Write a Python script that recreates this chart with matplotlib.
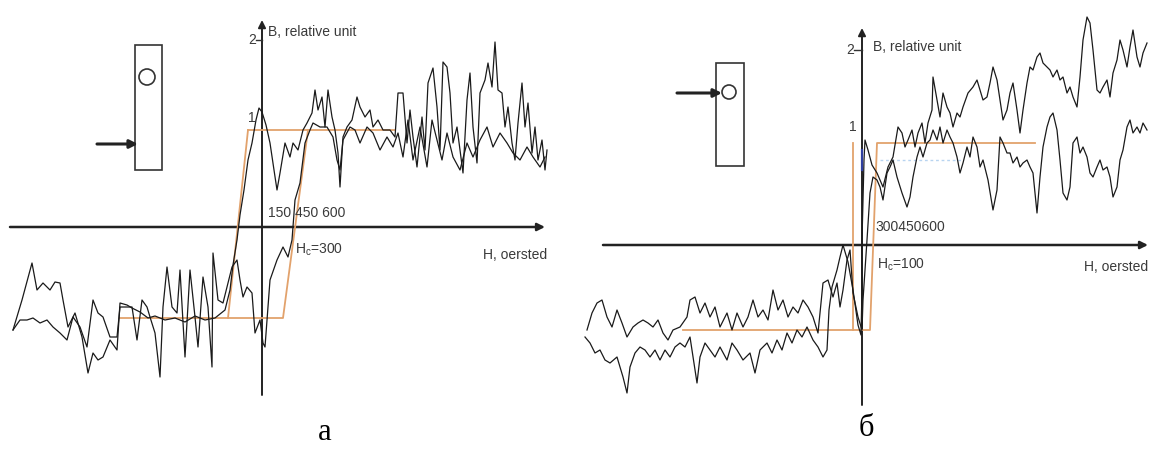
import matplotlib
matplotlib.use("Agg")
import matplotlib.pyplot as plt
from matplotlib.patches import Rectangle, Ellipse

plt.rcParams["font.family"] = ["Liberation Sans", "DejaVu Sans"]
plt.rcParams["mathtext.default"] = "regular"

# ---------------- panel "а" : H (Oe) / B (relative unit) ----------------
a1_H = [-2490, -2400, -2300, -2250, -2190, -2120, -2070, -2020, -1990, -1940, -1870, -1800,
        -1740, -1690, -1640, -1590, -1520, -1450, -1420, -1350, -1300, -1220, -1140, -1070,
        -970, -870, -770, -670, -570, -470, -370, -320, -290, -250, -220, -180, -140, -100,
        -60, -30, 0, 40, 80, 120, 150, 180, 230, 280, 310, 360, 410, 450, 500, 530, 560, 600,
        630, 660, 700, 730, 760, 780, 810, 850, 900, 950, 980, 1030, 1080, 1110, 1160, 1210,
        1280, 1330, 1360, 1410, 1450, 1480, 1510, 1550, 1600, 1630, 1660, 1710, 1750, 1780,
        1810, 1850, 1880, 1910, 1950, 1980, 2010, 2050, 2080, 2110, 2150, 2180, 2230, 2260,
        2300, 2330, 2360, 2400, 2430, 2460, 2500, 2530, 2560, 2600, 2630, 2660, 2700, 2730,
        2760, 2800, 2830, 2850]
a1_B = [-1.03, -0.73, -0.36, -0.63, -0.56, -0.63, -0.55, -0.56, -0.73, -1.00, -0.86, -1.10,
        -1.46, -1.26, -1.33, -1.30, -1.13, -1.23, -0.76, -0.78, -0.81, -0.85, -0.91, -0.89,
        -0.93, -0.91, -0.95, -0.89, -0.93, -0.91, -0.83, -0.63, -0.38, -0.13, 0.12, 0.37,
        0.67, 0.84, 1.07, 1.19, 1.15, 1.02, 0.84, 0.57, 0.37, 0.54, 0.84, 0.70, 0.84, 0.77,
        0.97, 1.04, 1.14, 1.37, 1.17, 1.30, 1.00, 1.37, 1.10, 0.97, 0.74, 0.40, 0.90, 1.00,
        1.07, 1.30, 1.20, 1.10, 1.17, 1.00, 1.07, 0.97, 0.97, 0.90, 1.34, 1.34, 0.84, 1.17,
        0.90, 0.60, 1.10, 0.77, 1.44, 1.59, 1.20, 0.77, 1.65, 1.60, 1.34, 0.84, 1.00, 0.77,
        0.54, 1.27, 1.54, 1.00, 0.64, 1.34, 1.47, 1.64, 1.40, 1.85, 1.37, 1.34, 1.00, 1.20,
        0.84, 0.67, 1.04, 1.44, 1.00, 1.24, 0.74, 1.00, 0.67, 0.87, 0.57, 0.77]

a2_H = [-2490, -2420, -2350, -2290, -2220, -2150, -2090, -2020, -1950, -1890, -1820, -1750,
        -1690, -1640, -1590, -1520, -1450, -1420, -1350, -1300, -1250, -1200, -1150, -1120,
        -1070, -1020, -990, -950, -900, -850, -820, -770, -720, -670, -640, -590, -540, -500,
        -490, -440, -390, -340, -300, -250, -220, -190, -150, -100, -70, -20, 10, 30, 80,
        150, 210, 260, 300, 330, 380, 430, 480, 510, 580, 650, 710, 750, 780, 810, 880, 930,
        980, 1050, 1110, 1180, 1250, 1310, 1360, 1410, 1460, 1510, 1580, 1650, 1700, 1750,
        1800, 1850, 1910, 1980, 2050, 2110, 2180, 2250, 2310, 2380, 2450, 2510, 2580, 2650,
        2710, 2780, 2830]
a2_B = [-1.03, -0.93, -0.93, -0.91, -0.96, -0.93, -1.00, -1.06, -1.13, -0.90, -1.00, -1.20,
        -0.73, -0.86, -0.90, -1.10, -1.10, -0.80, -0.80, -0.80, -1.13, -0.73, -0.80, -0.90,
        -1.06, -1.50, -0.80, -0.40, -0.80, -0.86, -0.43, -1.30, -0.43, -0.90, -1.20, -0.50,
        -0.80, -1.40, -0.26, -0.73, -0.76, -0.56, -0.40, -0.33, -0.53, -0.70, -0.60, -0.66,
        -1.06, -0.93, -1.16, -1.20, -0.53, -0.33, -0.20, -0.30, -0.13, 0.27, 0.44, 0.84,
        0.97, 1.04, 1.00, 1.00, 0.90, 0.67, 0.57, 0.87, 1.00, 0.97, 0.84, 1.00, 0.94, 0.77,
        0.90, 0.80, 0.94, 0.70, 1.07, 0.67, 1.00, 0.60, 1.07, 0.87, 0.67, 0.94, 0.70, 0.57,
        0.84, 0.70, 0.87, 1.00, 0.80, 0.94, 0.84, 0.74, 0.67, 0.80, 0.70, 0.60, 0.70]

# idealised loop for panel "а"
a_loop_H = [-1420, 210, 460]
a_loop_B = [-0.91, -0.91, 0.97]
a_top_H = [-140, 1330]
a_top_B = [0.97, 0.97]
a_edge_H = [-340, -140]
a_edge_B = [-0.91, 0.97]

# ---------------- panel "б" ----------------
b1_H = [-2750, -2700, -2650, -2600, -2550, -2500, -2450, -2400, -2350, -2290, -2240, -2190,
        -2140, -2090, -2040, -1990, -1940, -1890, -1820, -1750, -1720, -1670, -1620, -1570,
        -1520, -1470, -1420, -1350, -1300, -1250, -1190, -1140, -1090, -1040, -990, -940,
        -890, -840, -790, -740, -690, -640, -590, -540, -490, -440, -390, -340, -290, -250,
        -220, -190, -150, -120, -90, -40, 0, 10, 30, 50, 80, 110, 150, 180, 210, 250, 280,
        310, 350, 400, 450, 480, 510, 550, 580, 610, 650, 680, 710, 750, 780, 810, 850, 880,
        910, 950, 980, 1010, 1050, 1080, 1110, 1150, 1180, 1210, 1260, 1310, 1350, 1380,
        1410, 1450, 1480, 1510, 1550, 1580, 1610, 1650, 1680, 1710, 1750, 1780, 1810, 1850,
        1880, 1910, 1950, 1980, 2010, 2050, 2080, 2110, 2150, 2180, 2210, 2250, 2280, 2310,
        2350, 2380, 2410, 2450, 2480, 2510, 2550, 2580, 2610, 2650, 2680, 2710, 2750, 2780,
        2810, 2850]
b1_B = [-0.85, -0.68, -0.58, -0.55, -0.72, -0.82, -0.65, -0.78, -0.92, -0.82, -0.78, -0.75,
        -0.78, -0.82, -0.75, -0.88, -0.95, -0.85, -0.82, -0.72, -0.55, -0.52, -0.68, -0.58,
        -0.72, -0.62, -0.82, -0.68, -0.85, -0.68, -0.82, -0.72, -0.55, -0.72, -0.65, -0.75,
        -0.45, -0.65, -0.55, -0.72, -0.62, -0.68, -0.55, -0.62, -0.72, -0.88, -0.38, -0.35,
        -0.52, -0.38, -0.62, -0.45, -0.15, -0.05, -0.48, -0.72, -0.85, -0.55, -0.25, 0.05,
        0.52, 0.68, 0.65, 0.58, 0.45, 0.72, 0.78, 0.85, 0.68, 0.52, 0.38, 0.48, 0.68, 0.88,
        0.98, 0.88, 1.02, 1.05, 1.15, 1.05, 1.18, 1.02, 1.15, 1.08, 1.02, 0.88, 0.72, 0.82,
        0.98, 0.88, 1.08, 0.98, 0.78, 0.85, 0.65, 0.35, 0.55, 1.08, 1.02, 0.92, 0.92, 0.82,
        0.88, 0.78, 0.82, 0.85, 0.78, 0.72, 0.32, 0.68, 0.98, 1.18, 1.28, 1.32, 1.15, 0.85,
        0.52, 0.45, 0.58, 1.02, 1.08, 0.92, 0.98, 0.88, 0.72, 0.68, 0.78, 0.85, 0.75, 0.78,
        0.68, 0.48, 0.58, 0.85, 0.95, 1.18, 1.25, 1.12, 1.18, 1.12, 1.22, 1.15]

b2_H = [-2770, -2720, -2670, -2620, -2570, -2520, -2450, -2390, -2350, -2320, -2270, -2220,
        -2170, -2120, -2070, -2020, -1970, -1920, -1870, -1820, -1770, -1720, -1650, -1620,
        -1570, -1520, -1470, -1420, -1350, -1300, -1250, -1190, -1120, -1070, -1020, -950,
        -900, -850, -800, -750, -700, -650, -600, -550, -490, -440, -390, -350, -330, -300,
        -250, -220, -190, -140, -90, -40, -10, 0, 0, 10, 20, 30, 60, 100, 150, 210, 260, 310,
        360, 400, 430, 460, 500, 530, 560, 600, 630, 660, 700, 710, 750, 780, 810, 850, 880,
        910, 950, 980, 1010, 1060, 1110, 1150, 1180, 1210, 1250, 1280, 1310, 1350, 1380,
        1410, 1450, 1480, 1510, 1550, 1580, 1610, 1650, 1680, 1710, 1750, 1780, 1810, 1850,
        1880, 1910, 1950, 1980, 2010, 2050, 2080, 2110, 2150, 2180, 2210, 2250, 2280, 2310,
        2350, 2380, 2410, 2450, 2480, 2510, 2550, 2580, 2610, 2650, 2680, 2710, 2750, 2780,
        2810, 2850]
b2_B = [-0.92, -0.98, -1.08, -1.05, -1.15, -1.18, -1.12, -1.32, -1.48, -1.22, -1.08, -1.02,
        -1.05, -1.12, -1.05, -1.15, -1.05, -1.12, -1.02, -0.98, -1.02, -0.92, -1.38, -1.12,
        -0.98, -1.05, -1.12, -1.02, -1.15, -0.98, -1.05, -1.15, -1.08, -1.28, -1.05, -0.98,
        -1.08, -0.95, -1.05, -0.88, -0.98, -0.85, -0.92, -0.82, -0.95, -1.02, -1.12, -1.05,
        -0.65, -0.42, -0.25, -0.12, 0.00, -0.17, -0.45, -0.80, -0.90, -0.45, 0.05, 0.45,
        0.85, 1.05, 0.95, 0.80, 0.72, 0.58, 0.78, 0.88, 1.18, 1.12, 0.98, 1.05, 1.15, 0.98,
        1.12, 1.22, 1.02, 1.22, 1.35, 1.68, 1.45, 1.28, 1.52, 1.38, 1.32, 1.18, 1.32, 1.28,
        1.38, 1.52, 1.58, 1.65, 1.55, 1.45, 1.48, 1.62, 1.78, 1.65, 1.45, 1.25, 1.35, 1.52,
        1.62, 1.35, 1.12, 1.35, 1.62, 1.78, 1.75, 1.88, 1.92, 1.82, 1.78, 1.75, 1.68, 1.75,
        1.65, 1.68, 1.52, 1.58, 1.48, 1.38, 1.68, 2.05, 2.28, 2.22, 1.95, 1.55, 1.52, 1.58,
        1.65, 1.48, 1.72, 1.85, 2.05, 1.95, 1.78, 1.98, 2.15, 1.88, 1.78, 1.92, 2.02]

# idealised loop for panel "б"
b_loop_H = [-1790, 80, 150, 1730]
b_loop_B = [-0.85, -0.85, 1.02, 1.02]
b_edge_H = [-90, -90]
b_edge_B = [1.02, -0.85]

W, H = 1150, 453
fig = plt.figure(figsize=(W / 100, H / 100), dpi=100)
fig.patch.set_facecolor("white")

ax_a = fig.add_axes([0, 53 / H, 560 / W, 400 / H])
ax_a.set_xlim(-2620, 2980)
ax_a.set_ylim(-1.73, 2.27)
ax_b = fig.add_axes([570 / W, 43 / H, 580 / W, 410 / H])
ax_b.set_xlim(-2920, 2880)
ax_b.set_ylim(-1.65, 2.45)
for ax in (ax_a, ax_b):
    ax.axis("off")

ORANGE = "#e2a26c"
INK = "#1a1a1a"
TXT = "#3a3a3a"
arrow_kw = dict(arrowstyle="-|>", color="#222222", lw=1.8, mutation_scale=11,
                shrinkA=0, shrinkB=0)


def frame(ax, hx0, hx1, by0, by1):
    ax.annotate("", xy=(hx1, 0), xytext=(hx0, 0), arrowprops=arrow_kw, zorder=2)
    ax.annotate("", xy=(0, by1), xytext=(0, by0), arrowprops=dict(arrow_kw, lw=1.4),
                zorder=2)


def specimen(ax, x0, x1, y0, y1, cx, cy, rw, rh, ax0, ax1, ay):
    ax.add_patch(Rectangle((x0, y0), x1 - x0, y1 - y0, fill=False, ec="#333333", lw=1.2))
    ax.add_patch(Ellipse((cx, cy), rw, rh, fill=False, ec="#333333", lw=1.2))
    ax.annotate("", xy=(ax1, ay), xytext=(ax0, ay),
                arrowprops=dict(arrowstyle="-|>", color="#222222", lw=2.2,
                                mutation_scale=12, shrinkA=0, shrinkB=0))


# panel "а"
frame(ax_a, -2520, 2830, -1.68, 2.07)
ax_a.plot(a_loop_H, a_loop_B, color=ORANGE, lw=1.3, zorder=3)
ax_a.plot(a_top_H, a_top_B, color=ORANGE, lw=1.3, zorder=3)
ax_a.plot(a_edge_H, a_edge_B, color=ORANGE, lw=1.3, zorder=3)
ax_a.plot(a1_H, a1_B, color=INK, lw=0.9, zorder=4)
ax_a.plot(a2_H, a2_B, color=INK, lw=0.9, zorder=4)
ax_a.plot([-60, 0], [1.87, 1.87], color="#333333", lw=1)
ax_a.text(-60, 1.87, "2", ha="right", va="center", fontsize=10, color=TXT)
ax_a.text(-100, 1.09, "1", ha="center", va="center", fontsize=10, color=TXT)
ax_a.text(60, 1.95, "B, relative unit", ha="left", va="center", fontsize=10, color=TXT)
ax_a.text(60, 0.14, "150 450 600", ha="left", va="center", fontsize=10, color=TXT)
ax_a.text(330, -0.23, "H$_c$=300", ha="left", va="center", fontsize=10, color=TXT)
ax_a.text(2850, -0.28, "H, oersted", ha="right", va="center", fontsize=10, color=TXT)
specimen(ax_a, -1270, -1000, 0.57, 1.82, -1150, 1.50, 160, 0.16, -1650, -1240, 0.83)

# panel "б"
frame(ax_b, -2590, 2860, -1.60, 2.17)
ax_b.plot(b_loop_H, b_loop_B, color=ORANGE, lw=1.3, zorder=3)
ax_b.plot(b_edge_H, b_edge_B, color=ORANGE, lw=1.3, zorder=3)
ax_b.plot([180, 1000], [0.85, 0.85], color="#b8d4f0", lw=1.0, ls=(0, (2, 2)), zorder=3)
ax_b.plot(b1_H, b1_B, color=INK, lw=0.9, zorder=4)
ax_b.plot(b2_H, b2_B, color=INK, lw=0.9, zorder=4)
ax_b.plot([0, 0], [0.75, 0.95], color="#3040a0", lw=1.6, zorder=5)
ax_b.plot([-80, 0], [1.95, 1.95], color="#333333", lw=1)
ax_b.text(-80, 1.95, "2", ha="right", va="center", fontsize=10, color=TXT)
ax_b.text(-90, 1.18, "1", ha="center", va="center", fontsize=10, color=TXT)
ax_b.text(110, 1.98, "B, relative unit", ha="left", va="center", fontsize=10, color=TXT)
ax_b.text(130, 0.18, "300450600", ha="left", va="center", fontsize=10, color=TXT)
ax_b.text(150, -0.20, "H$_c$=100", ha="left", va="center", fontsize=10, color=TXT)
ax_b.text(2860, -0.22, "H, oersted", ha="right", va="center", fontsize=10, color=TXT)
specimen(ax_b, -1460, -1180, 0.79, 1.82, -1330, 1.53, 140, 0.14, -1850, -1400, 1.52)

# sub-figure captions
fig.text(325 / W, 1 - 432 / H, "а", ha="center", va="center", fontsize=22,
         family=["Liberation Serif", "DejaVu Serif"], color="black")
fig.text(866 / W, 1 - 428 / H, "б", ha="center", va="center", fontsize=22,
         family=["Liberation Serif", "DejaVu Serif"], color="black")

fig.savefig("out.png", dpi=100, facecolor="white")
